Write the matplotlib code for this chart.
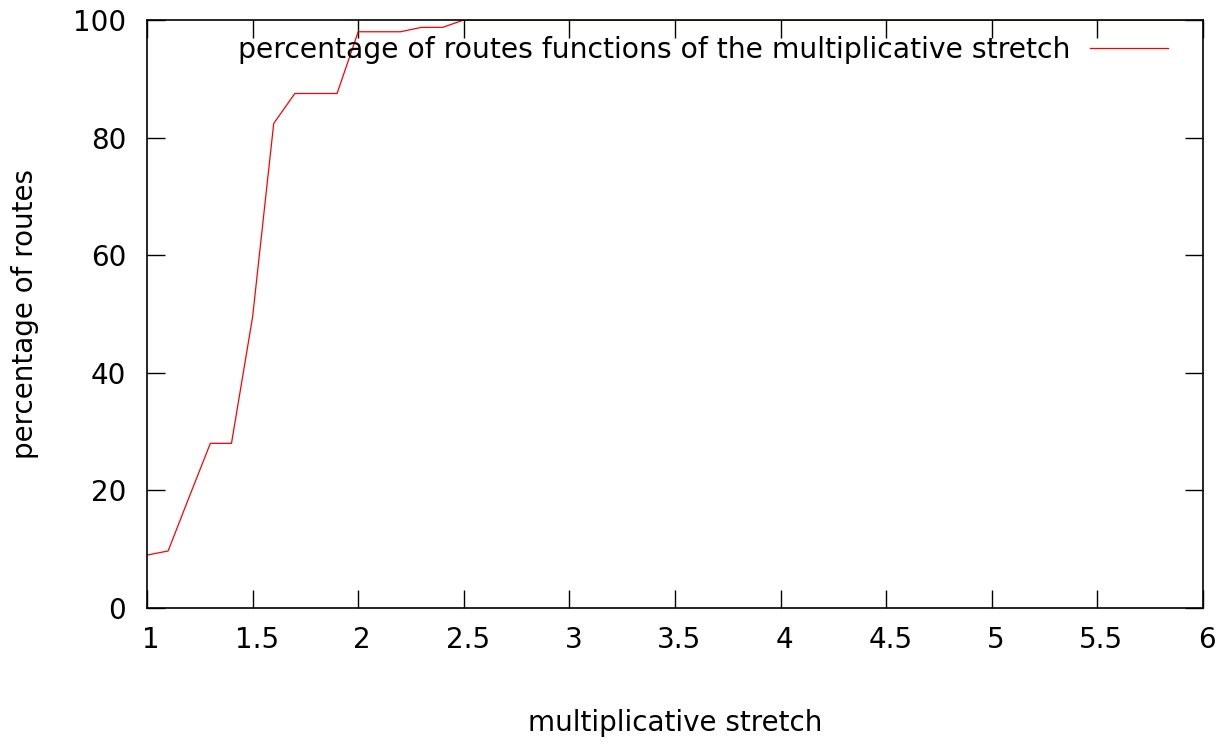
import matplotlib
matplotlib.use("Agg")
import matplotlib.pyplot as plt
import matplotlib.transforms as mtransforms

# multiplicative stretch vs percentage of routes
stretch = [1.0, 1.1, 1.2, 1.3, 1.4, 1.5, 1.6, 1.7, 1.8, 1.9, 2.0, 2.1, 2.2,
           2.3, 2.4, 2.5, 3.0, 3.5, 4.0, 4.5, 5.0, 5.5, 6.0]
percent = [9.0, 9.7, 18.9, 28.0, 28.0, 49.5, 82.4, 87.5, 87.5, 87.5, 98.0, 98.0, 98.0,
           98.75, 98.75, 100, 100, 100, 100, 100, 100, 100, 100]
xticks = [1, 1.5, 2, 2.5, 3, 3.5, 4, 4.5, 5, 5.5, 6]
xticklabels = ["1", "1.5", "2", "2.5", "3", "3.5", "4", "4.5", "5", "5.5", "6"]
yticks = [0, 20, 40, 60, 80, 100]

plt.rcParams["font.family"] = "DejaVu Sans"
fig = plt.figure(figsize=(12.25, 7.42), dpi=100)
ax = fig.add_axes([147 / 1225, 1 - 608 / 742, (1203 - 147) / 1225, (608 - 20) / 742])

ax.plot(stretch, percent, color="red", lw=0.9,
        label="percentage of routes functions of the multiplicative stretch")
ax.set_xlim(1, 6)
ax.set_ylim(0, 100)
ax.set_xticks(xticks)
ax.set_xticklabels(xticklabels)
ax.set_yticks(yticks)
ax.tick_params(direction="in", length=13, width=1, labelsize=20,
               top=True, right=True, colors="black")
ax.tick_params(axis="x", pad=13)
ax.tick_params(axis="y", pad=15)
for s in ax.spines.values():
    s.set_linewidth(1.2)

# gnuplot puts x tick labels a few pixels right of the tick
shift = mtransforms.ScaledTranslation(4 / 100, 0, fig.dpi_scale_trans)
for lab in ax.get_xticklabels():
    lab.set_transform(lab.get_transform() + shift)

ax.set_xlabel("multiplicative stretch", fontsize=20, va="center")
ax.set_ylabel("percentage of routes", fontsize=20, va="center")
ax.xaxis.set_label_coords(0.5, (608 - 723) / 588)
ax.yaxis.set_label_coords((25 - 147) / 1056, 0.5)

leg = ax.legend(loc="upper right", frameon=False, fontsize=20.3, markerfirst=False,
                handlelength=2.77, handletextpad=0.68, borderaxespad=0.0,
                borderpad=0.0, bbox_to_anchor=((1168 - 147) / 1056, 1 - 16 / 588))

fig.savefig("out.png", dpi=100)
